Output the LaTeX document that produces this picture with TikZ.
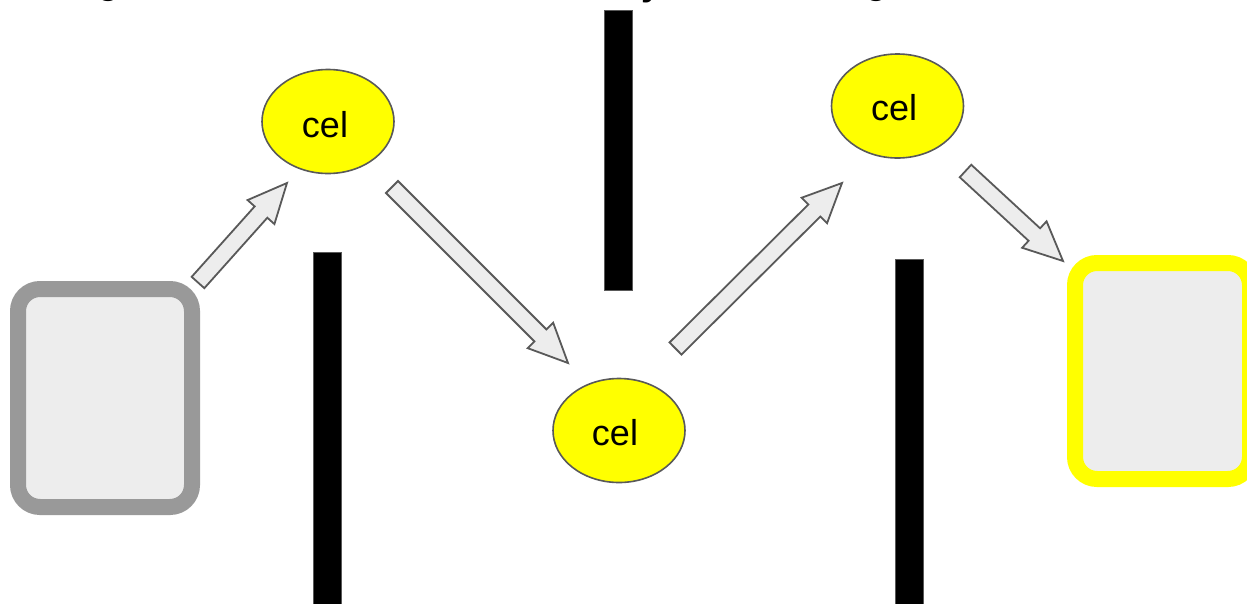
\documentclass[tikz,border=0pt]{standalone}
\usepackage{fontspec}
\setmainfont{Liberation Sans}
\usetikzlibrary{calc,shapes.geometric}
\definecolor{boxfill}{HTML}{EDEDED}
\definecolor{boxgray}{HTML}{999999}
\definecolor{edgegray}{HTML}{595959}
\definecolor{ylw}{HTML}{FFFF00}
\tikzset{
  celnode/.style={ellipse, draw=edgegray, line width=1.6pt, fill=ylw, minimum width=132pt, minimum height=104pt, inner sep=0pt},
  celtext/.style={font=\fontsize{36}{36}\selectfont, inner sep=0pt},
  wall/.style={draw=edgegray, line width=1pt, fill=black},
  barrow/.style={draw=edgegray, line width=1.8pt, fill=boxfill, line join=miter},
  cut/.style={font=\bfseries\fontsize{36}{36}\selectfont, inner sep=0pt, anchor=base}
}
\newcommand\blockarrow[2]{%
  \draw[barrow]
    ($(#1)!8.5pt!90:(#2)$) --
    ($($(#2)!39pt!(#1)$)!8.5pt!-90:(#1)$) --
    ($($(#2)!39pt!(#1)$)!18pt!-90:(#1)$) --
    (#2) --
    ($($(#2)!39pt!(#1)$)!18pt!90:(#1)$) --
    ($($(#2)!39pt!(#1)$)!8.5pt!90:(#1)$) --
    ($(#1)!8.5pt!-90:(#2)$) -- cycle;}
\begin{document}
\begin{tikzpicture}[x=1pt,y=-1pt]
\useasboundingbox (0,0) rectangle (1247,603);
\fill[white] (0,0) rectangle (1247,603);
% cut-off title glyphs
\node[cut] (t1) at (108,-5) {¿};
\node[cut] (t2) at (652,-5) {y};
\node[cut] (t3) at (876,-5) {¿};
% walls
\draw[wall] (313.5,252.5) rectangle (341.5,610);
\draw[wall] (604.5,10.5) rectangle (632.5,290);
\draw[wall] (895.5,259.5) rectangle (923.5,610);
% boxes
\draw[draw=boxgray, fill=boxfill, line width=16pt, rounded corners=22pt] (18,289) rectangle (192,507);
\node[inner sep=0pt, minimum width=190pt, minimum height=234pt] (src) at (105,398) {};
\draw[draw=ylw, fill=boxfill, line width=16pt, rounded corners=22pt] (1075,263) rectangle (1250,479);
\node[inner sep=0pt, minimum width=190pt, minimum height=232pt] (dst) at (1162,371) {};
% cells
\node[celnode] (c1) at (328,121.5) {};
\node[celtext] (c1t) at (325,125) {cel};
\node[celnode] (c2) at (619,430.5) {};
\node[celtext] (c2t) at (615,433) {cel};
\node[celnode] (c3) at (897.5,106) {};
\node[celtext] (c3t) at (894,108) {cel};
% arrow end points
\coordinate (a1s) at (198,282.5);
\coordinate (a1e) at (287,183);
\coordinate (a2s) at (392,187);
\coordinate (a2e) at (568,363);
\coordinate (a3s) at (675.5,348.5);
\coordinate (a3e) at (842,183);
\coordinate (a4s) at (965.5,171);
\coordinate (a4e) at (1063,261);
\blockarrow{a1s}{a1e}
\blockarrow{a2s}{a2e}
\blockarrow{a3s}{a3e}
\blockarrow{a4s}{a4e}
\end{tikzpicture}
\end{document}
